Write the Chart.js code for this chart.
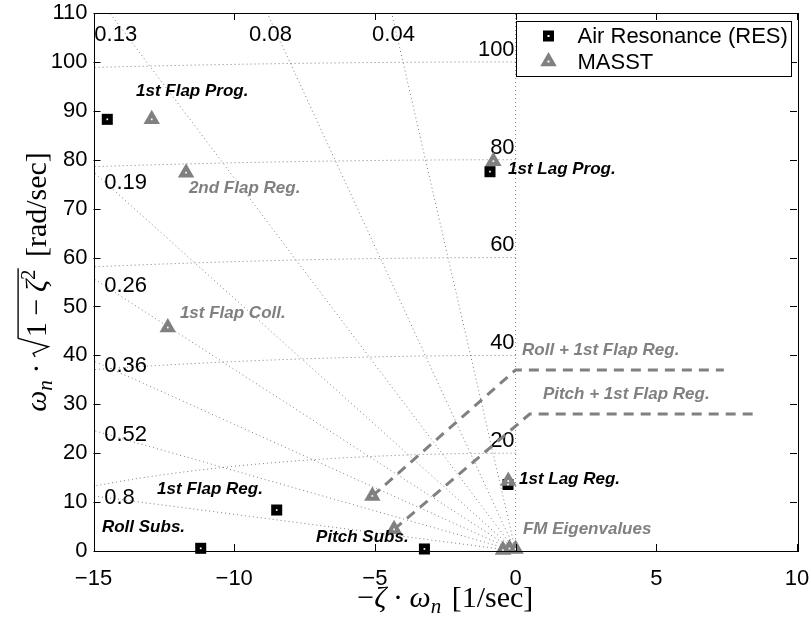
<!DOCTYPE html>
<html>
<head>
<meta charset="utf-8">
<script src="https://cdn.jsdelivr.net/npm/chart.js@4/dist/chart.umd.min.js"></script>
<style>
  html, body { margin: 0; padding: 0; background: #fff; }
  #wrap { width: 811px; height: 617px; }
</style>
</head>
<body>
<div id="wrap"><canvas id="c" width="811" height="617"></canvas></div>
<script>
// Air Resonance (RES) eigenvalues: real part (-zeta*wn) and damped frequency
const resReal = [-14.51, -0.91, -8.49, -11.19, -3.24, -0.27];
const resImag = [88.26, 77.55, 8.38, 0.55, 0.41, 13.6];

// MASST eigenvalues
const masstReal = [-12.93, -11.71, -0.79, -12.36, -5.09, -4.32, -0.26, -0.45, -0.22, 0.0];
const masstImag = [88.26, 77.35, 79.7, 45.7, 11.25, 4.43, 14.3, 0.2, 0.5, 0.4];

// Coupled-mode paths (dashed)
const rollPathX = [-5.09, 0.0, 7.4];
const rollPathY = [11.25, 37.0, 37.0];
const pitchPathX = [-4.32, 0.5, 8.6];
const pitchPathY = [4.43, 28.0, 28.0];

// s-plane grid: damping ratios and natural frequencies
const dampingRatios = [0.04, 0.08, 0.13, 0.19, 0.26, 0.36, 0.52, 0.8];
const naturalFreqs = [20, 40, 60, 80, 100];

// axis ticks
const xTicks = [-15, -10, -5, 0, 5, 10];
const yTicks = [0, 10, 20, 30, 40, 50, 60, 70, 80, 90, 100, 110];

const SANS = '"Liberation Sans", Arial, Helvetica, sans-serif';
const SERIF = '"Liberation Serif", "Times New Roman", serif';
const GRAY = '#808080';

function pts(xs, ys) { return xs.map((x, i) => ({ x, y: ys[i] })); }
function fmt(v) { return v < 0 ? '\u2212' + Math.abs(v) : String(v); }

// grid label anchors (data units)
const zetaLabelSpots = [
  { z: '0.13', x: -14.97, y: 105.5 },
  { z: '0.08', x: -9.47, y: 105.5 },
  { z: '0.04', x: -5.10, y: 105.5 },
  { z: '0.19', x: -14.62, y: 75.2 },
  { z: '0.26', x: -14.62, y: 54.2 },
  { z: '0.36', x: -14.62, y: 37.8 },
  { z: '0.52', x: -14.62, y: 23.7 },
  { z: '0.8',  x: -14.62, y: 10.9 }
];

// mode annotations
const modeNotes = [
  { t: '1st Flap Prog.', x: -13.49, y: 94.0, c: '#000' },
  { t: '2nd Flap Reg.', x: -11.61, y: 74.2, c: GRAY },
  { t: '1st Lag Prog.', x: -0.27, y: 78.1, c: '#000' },
  { t: '1st Flap Coll.', x: -11.93, y: 48.6, c: GRAY },
  { t: 'Roll + 1st Flap Reg.', x: 0.23, y: 41.1, c: GRAY },
  { t: 'Pitch + 1st Flap Reg.', x: 0.97, y: 32.1, c: GRAY },
  { t: '1st Lag Reg.', x: 0.12, y: 14.7, c: '#000' },
  { t: '1st Flap Reg.', x: -12.74, y: 12.7, c: '#000' },
  { t: 'Roll Subs.', x: -14.70, y: 4.9, c: '#000' },
  { t: 'Pitch Subs.', x: -7.09, y: 2.7, c: '#000' },
  { t: 'FM Eigenvalues', x: 0.26, y: 4.5, c: GRAY }
];

// s-plane grid (damping rays + natural frequency arcs)
const sgridPlugin = {
  id: 'sgrid',
  beforeDatasetsDraw(chart) {
    const { ctx, chartArea: a, scales: { x, y } } = chart;
    ctx.save();
    ctx.beginPath();
    ctx.rect(a.left, a.top, a.right - a.left, a.bottom - a.top);
    ctx.clip();
    ctx.strokeStyle = 'rgba(0,0,0,0.5)';
    ctx.lineWidth = 1;
    ctx.setLineDash([1, 3]);
    [0].concat(dampingRatios).forEach(z => {
      ctx.beginPath();
      ctx.moveTo(x.getPixelForValue(0), y.getPixelForValue(0));
      ctx.lineTo(x.getPixelForValue(-z * 200), y.getPixelForValue(Math.sqrt(1 - z * z) * 200));
      ctx.stroke();
    });
    naturalFreqs.forEach(w => {
      ctx.beginPath();
      for (let k = 0; k <= 400; k++) {
        const p = k / 400 * Math.PI / 2;
        const px = x.getPixelForValue(-w * Math.sin(p));
        const py = y.getPixelForValue(w * Math.cos(p));
        if (k) ctx.lineTo(px, py); else ctx.moveTo(px, py);
      }
      ctx.stroke();
    });
    ctx.setLineDash([]);
    ctx.fillStyle = '#000';
    ctx.font = '22px ' + SANS;
    ctx.textBaseline = 'middle';
    ctx.textAlign = 'left';
    zetaLabelSpots.forEach(s => {
      ctx.fillText(s.z, x.getPixelForValue(s.x), y.getPixelForValue(s.y));
    });
    ctx.textAlign = 'right';
    naturalFreqs.forEach(w => {
      ctx.fillText(String(w), x.getPixelForValue(0) - 1, y.getPixelForValue(w + 2.5));
    });
    ctx.restore();
  }
};

// tiny math typesetter for the axis titles
function runMath(ctx, parts, S, draw, x0, y0) {
  let x = x0, radStart = null;
  ctx.lineWidth = Math.max(1, S * 0.045);
  for (const p of parts) {
    if (p.sp) { x += p.sp * S; continue; }
    if (p.radOpen) {
      if (draw) {
        ctx.beginPath();
        ctx.moveTo(x, y0 - 0.36 * S);
        ctx.lineTo(x + 0.12 * S, y0 - 0.43 * S);
        ctx.lineTo(x + 0.34 * S, y0 + 0.08 * S);
        ctx.lineTo(x + 0.62 * S, y0 - 0.93 * S);
        ctx.stroke();
      }
      x += 0.66 * S;
      radStart = x;
      continue;
    }
    if (p.radClose) {
      if (draw) {
        ctx.beginPath();
        ctx.moveTo(radStart - 0.05 * S, y0 - 0.93 * S);
        ctx.lineTo(x + 0.04 * S, y0 - 0.93 * S);
        ctx.stroke();
      }
      x += 0.06 * S;
      continue;
    }
    const sz = S * (p.sc || 1);
    ctx.font = (p.it ? 'italic ' : '') + sz + 'px ' + SERIF;
    if (draw) ctx.fillText(p.t, x, y0 + (p.dy || 0) * S);
    x += ctx.measureText(p.t).width;
  }
  return x - x0;
}

const xTitleParts = [
  { t: '\u2212' }, { t: '\u03B6', it: 1 }, { sp: 0.22 }, { t: '\u00B7' }, { sp: 0.22 },
  { t: '\u03C9', it: 1 }, { t: 'n', it: 1, sc: 0.7, dy: 0.2 }, { sp: 0.35 }, { t: '[1/sec]' }
];
const yTitleParts = [
  { t: '\u03C9', it: 1 }, { t: 'n', it: 1, sc: 0.7, dy: 0.2 }, { sp: 0.22 }, { t: '\u00B7' }, { sp: 0.22 },
  { radOpen: 1 }, { t: '1' }, { sp: 0.22 }, { t: '\u2212' }, { sp: 0.22 }, { t: '\u03B6', it: 1 },
  { t: '2', sc: 0.7, dy: -0.38 }, { radClose: 1 }, { sp: 0.35 }, { t: '[rad/sec]' }
];

// frame, inward ticks, annotations, legend, axis titles
const framePlugin = {
  id: 'frame',
  afterDatasetsDraw(chart) {
    const { ctx, chartArea: a, scales: { x, y } } = chart;
    ctx.save();
    // mode annotations
    ctx.font = 'italic bold 17px ' + SANS;
    ctx.textAlign = 'left';
    ctx.textBaseline = 'middle';
    modeNotes.forEach(n => {
      ctx.fillStyle = n.c;
      ctx.fillText(n.t, x.getPixelForValue(n.x), y.getPixelForValue(n.y));
    });
    // box and inward ticks
    ctx.strokeStyle = '#000';
    ctx.lineWidth = 1;
    ctx.strokeRect(Math.round(a.left) + 0.5, Math.round(a.top) + 0.5,
      Math.round(a.right - a.left), Math.round(a.bottom - a.top));
    const T = 7;
    ctx.beginPath();
    xTicks.forEach(v => {
      const px = Math.round(x.getPixelForValue(v)) + 0.5;
      ctx.moveTo(px, a.bottom); ctx.lineTo(px, a.bottom - T);
      ctx.moveTo(px, a.top); ctx.lineTo(px, a.top + T);
    });
    yTicks.forEach(v => {
      const py = Math.round(y.getPixelForValue(v)) + 0.5;
      ctx.moveTo(a.left, py); ctx.lineTo(a.left + T, py);
      ctx.moveTo(a.right, py); ctx.lineTo(a.right - T, py);
    });
    ctx.stroke();

    // legend
    const lw = 275, lh = 55;
    const lx = Math.round(a.right - 6 - lw) + 0.5, ly = Math.round(a.top + 8) + 0.5;
    ctx.fillStyle = '#fff';
    ctx.fillRect(lx, ly, lw, lh);
    ctx.strokeStyle = '#000';
    ctx.strokeRect(lx, ly, lw, lh);
    const mx = lx + 32, r1 = ly + 14.5, r2 = ly + 40;
    ctx.fillStyle = '#000';
    ctx.fillRect(mx - 5.5, r1 - 5.5, 11, 11);
    ctx.fillStyle = '#fff';
    ctx.fillRect(mx - 1, r1 - 1, 2, 2);
    const tr = 9.5;
    ctx.fillStyle = GRAY;
    ctx.beginPath();
    ctx.moveTo(mx, r2 - tr);
    ctx.lineTo(mx + tr * Math.sin(2 * Math.PI / 3), r2 + tr / 2);
    ctx.lineTo(mx - tr * Math.sin(2 * Math.PI / 3), r2 + tr / 2);
    ctx.closePath();
    ctx.fill();
    ctx.fillStyle = '#fff';
    ctx.fillRect(mx - 1, r2 - 1, 2, 2);
    ctx.fillStyle = '#000';
    ctx.font = '22px ' + SANS;
    ctx.textAlign = 'left';
    ctx.textBaseline = 'middle';
    ctx.fillText('Air Resonance (RES)', lx + 61, r1 + 1);
    ctx.fillText('MASST', lx + 61, r2 + 1);
    ctx.restore();
  },
  afterDraw(chart) {
    const { ctx, chartArea: a } = chart;
    ctx.save();
    ctx.fillStyle = '#000';
    ctx.strokeStyle = '#000';
    ctx.textAlign = 'left';
    ctx.textBaseline = 'alphabetic';
    const S = 30;
    // x title
    const wx = runMath(ctx, xTitleParts, S, false, 0, 0);
    runMath(ctx, xTitleParts, S, true, (a.left + a.right) / 2 - wx / 2, 607);
    // y title
    const wy = runMath(ctx, yTitleParts, S, false, 0, 0);
    ctx.translate(46, (a.top + a.bottom) / 2);
    ctx.rotate(-Math.PI / 2);
    runMath(ctx, yTitleParts, S, true, -wy / 2, 0);
    ctx.restore();
  }
};

const tickFont = { family: SANS, size: 22 };

new Chart(document.getElementById('c'), {
  type: 'scatter',
  data: {
    datasets: [
      { label: 'RES centre', data: pts(resReal, resImag), pointStyle: 'rect', pointRadius: 1.2,
        backgroundColor: '#fff', borderWidth: 0, clip: false },
      { label: 'MASST centre', data: pts(masstReal, masstImag), pointStyle: 'rect', pointRadius: 1.2,
        backgroundColor: '#fff', borderWidth: 0, clip: false },
      { label: 'MASST', data: pts(masstReal, masstImag), pointStyle: 'triangle', pointRadius: 9.5,
        backgroundColor: GRAY, borderColor: GRAY, borderWidth: 0, clip: false },
      { label: 'Air Resonance (RES)', data: pts(resReal, resImag), pointStyle: 'rect', pointRadius: 7.8,
        backgroundColor: '#000', borderWidth: 0, clip: false },
      { label: 'Roll + 1st Flap Reg.', type: 'line', data: pts(rollPathX, rollPathY), showLine: true,
        borderColor: GRAY, borderWidth: 3, borderDash: [10, 7], pointRadius: 0, tension: 0, fill: false },
      { label: 'Pitch + 1st Flap Reg.', type: 'line', data: pts(pitchPathX, pitchPathY), showLine: true,
        borderColor: GRAY, borderWidth: 3, borderDash: [10, 7], pointRadius: 0, tension: 0, fill: false }
    ]
  },
  options: {
    responsive: false,
    animation: false,
    devicePixelRatio: 1,
    layout: { padding: { top: 13, right: 14, left: 0, bottom: 0 } },
    plugins: { legend: { display: false }, tooltip: { enabled: false } },
    scales: {
      x: {
        type: 'linear', min: -15, max: 10,
        afterBuildTicks: s => { s.ticks = xTicks.map(v => ({ value: v })); },
        afterFit: s => { s.height = 66; s.paddingLeft = 0; s.paddingRight = 0; },
        grid: { display: false, drawTicks: false },
        border: { display: false },
        ticks: { font: tickFont, color: '#000', padding: 15, maxRotation: 0, callback: v => fmt(v) }
      },
      y: {
        type: 'linear', min: 0, max: 110,
        afterBuildTicks: s => { s.ticks = yTicks.map(v => ({ value: v })); },
        afterFit: s => { s.width = 93.5; s.paddingTop = 0; s.paddingBottom = 0; },
        grid: { display: false, drawTicks: false },
        border: { display: false },
        ticks: { font: tickFont, color: '#000', padding: 6, callback: v => fmt(v) }
      }
    }
  },
  plugins: [sgridPlugin, framePlugin]
});
</script>
</body>
</html>
